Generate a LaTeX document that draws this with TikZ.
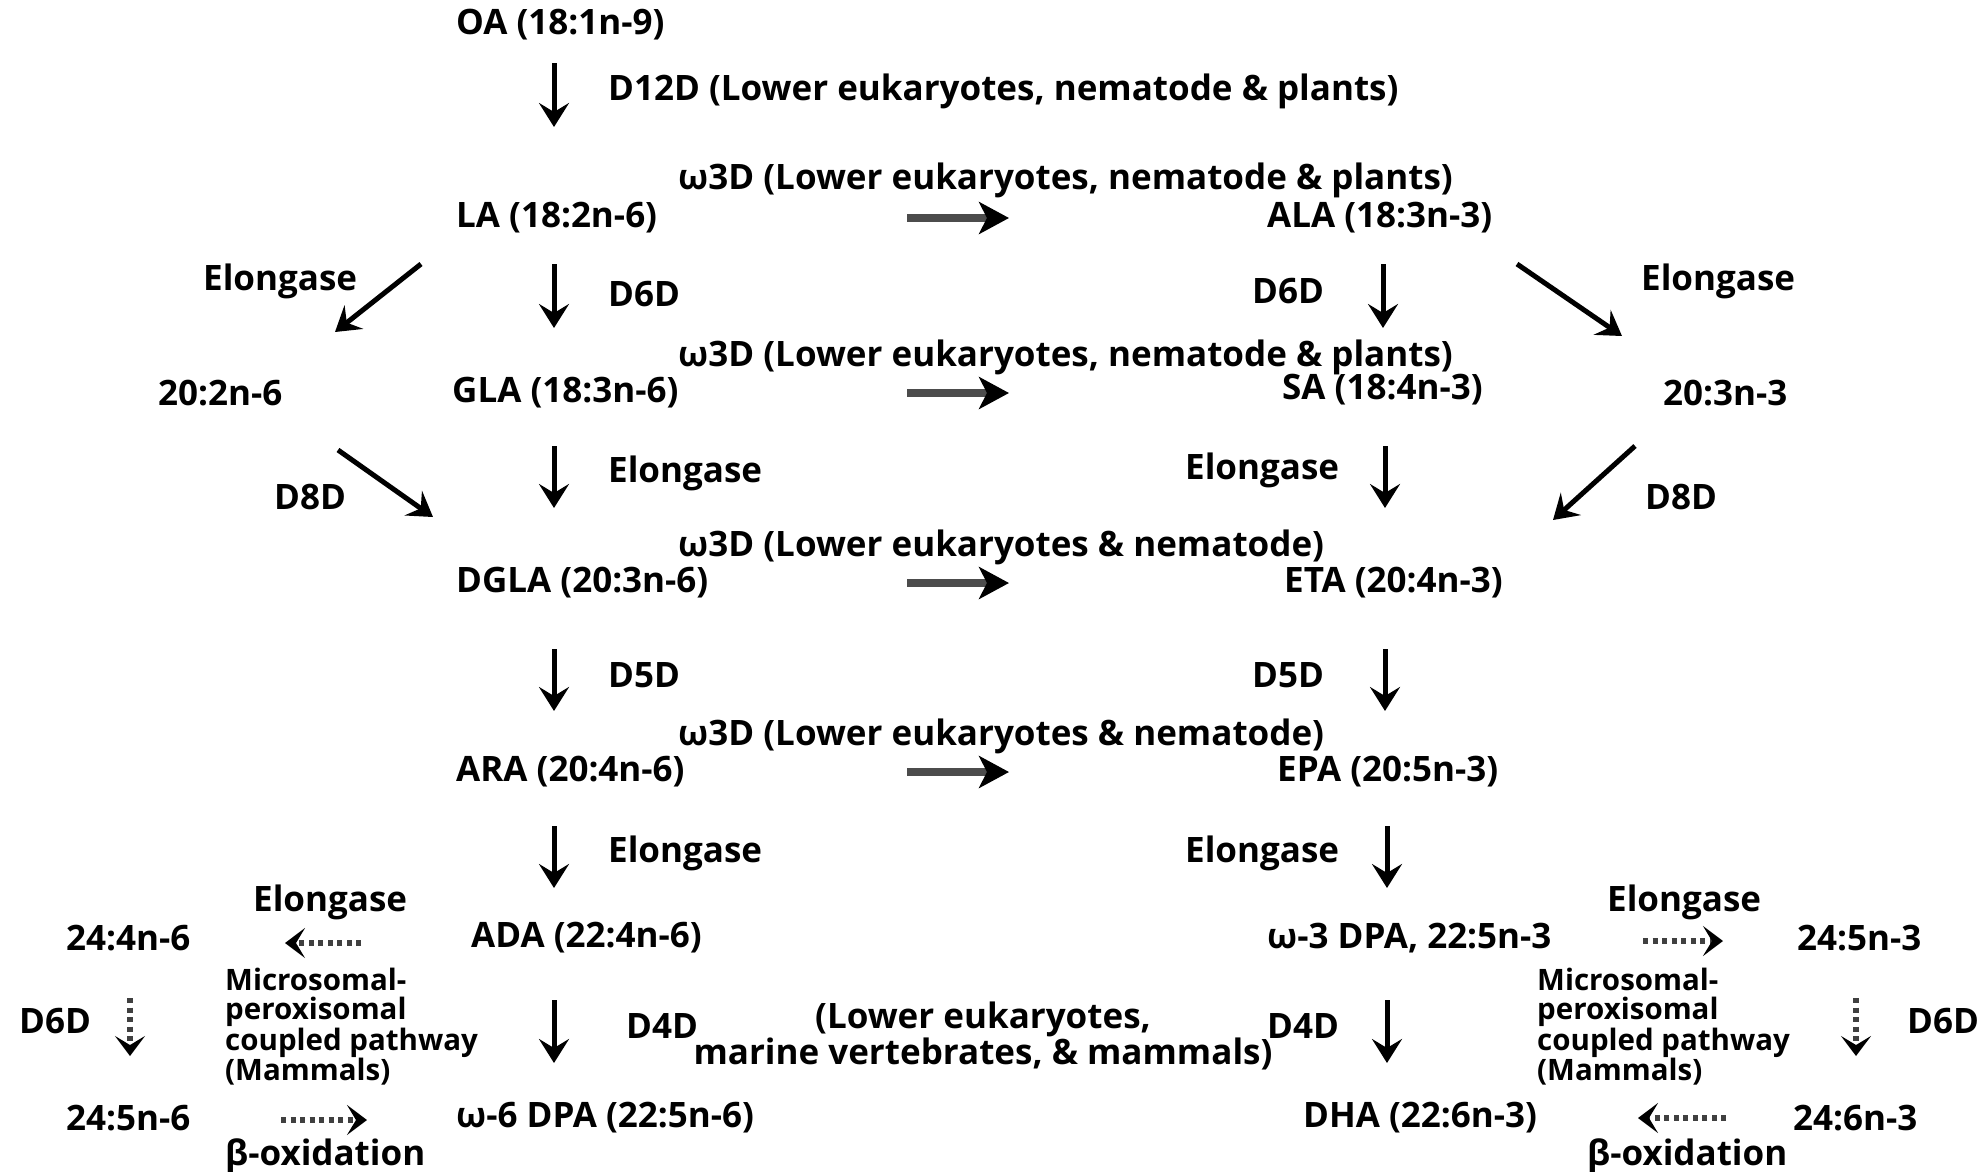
\documentclass[tikz,border=0pt]{standalone}
\usepackage{fontspec}
\setmainfont{Open Sans}
\usetikzlibrary{arrows.meta}
\newcommand{\fz}{\fontsize{35}{31}\selectfont\bfseries}
\newcommand{\fs}{\fontsize{29.5}{29}\selectfont\bfseries}
\tikzset{
  txt/.style={anchor=west, inner sep=0pt, font=\fz},
  small/.style={anchor=west, inner sep=0pt, font=\fs, align=left},
  solidarr/.style={line width=5pt, -{Stealth[length=24pt,width=30pt,inset=9pt]}},
  fatarr/.style={line width=8.5pt, black!70, -{Stealth[length=30pt,width=32pt,inset=8pt,color=black]}},
  dotarr/.style={line width=6pt, black!75, dash pattern=on 5pt off 4.5pt, -{Stealth[length=20pt,width=30pt,inset=9pt,color=black]}}
}
\begin{document}
\begin{tikzpicture}[x=1pt,y=-1pt]
\useasboundingbox (0,0) rectangle (1987,1171);
% main column texts
\node[txt] (oa) at (456,25) {OA (18:1n-9)};
\node[txt] (d12d) at (608,91) {D12D (Lower eukaryotes, nematode \& plants)};
\node[txt] (w1) at (678,180) {ω3D (Lower eukaryotes, nematode \& plants)};
\node[txt] (la) at (456,218) {LA (18:2n-6)};
\node[txt] (ala) at (1267,218) {ALA (18:3n-3)};
\node[txt] (el1) at (203,281) {Elongase};
\node[txt] (d6l) at (608,294) {D6D};
\node[txt] (d6r) at (1252,291) {D6D};
\node[txt] (el2) at (1641,281) {Elongase};
\node[txt] (w2) at (678,357) {ω3D (Lower eukaryotes, nematode \& plants)};
\node[txt] (c202) at (158,393) {20:2n-6};
\node[txt] (gla) at (452,393) {GLA (18:3n-6)};
\node[txt] (sa) at (1282,390) {SA (18:4n-3)};
\node[txt] (c203) at (1663,393) {20:3n-3};
\node[txt] (d8l) at (274,497) {D8D};
\node[txt] (el3) at (608,473) {Elongase};
\node[txt] (el4) at (1185,470) {Elongase};
\node[txt] (d8r) at (1645,497) {D8D};
\node[txt] (w3) at (678,547) {ω3D (Lower eukaryotes \& nematode)};
\node[txt] (dgla) at (456,583) {DGLA (20:3n-6)};
\node[txt] (eta) at (1284,583) {ETA (20:4n-3)};
\node[txt] (d5l) at (608,675) {D5D};
\node[txt] (d5r) at (1252,675) {D5D};
\node[txt] (w4) at (678,736) {ω3D (Lower eukaryotes \& nematode)};
\node[txt] (ara) at (456,772) {ARA (20:4n-6)};
\node[txt] (epa) at (1277,772) {EPA (20:5n-3)};
\node[txt] (el5) at (608,853) {Elongase};
\node[txt] (el6) at (1185,853) {Elongase};
\node[txt] (el7) at (253,902) {Elongase};
\node[txt] (c244) at (66,938) {24:4n-6};
\node[txt] (ada) at (471,938) {ADA (22:4n-6)};
\node[txt] (dpa3) at (1267,938) {ω-3 DPA, 22:5n-3};
\node[txt] (el8) at (1607,902) {Elongase};
\node[txt] (c245) at (1797,938) {24:5n-3};
\node[txt] (d6ll) at (19,1021) {D6D};
\node[small] (mic1) at (225,1027) {Microsomal-\\peroxisomal\\coupled pathway\\(Mammals)};
\node[txt] (d4l) at (626,1026) {D4D};
\node[anchor=center, inner sep=0pt, font=\fz, align=center] (note) at (983,1036) {(Lower eukaryotes,\\marine vertebrates, \& mammals)};
\node[txt] (d4r) at (1267,1026) {D4D};
\node[small] (mic2) at (1537,1027) {Microsomal-\\peroxisomal\\coupled pathway\\(Mammals)};
\node[txt] (d6rr) at (1907,1021) {D6D};
\node[txt] (c2456) at (66,1118) {24:5n-6};
\node[txt] (dpa6) at (456,1118) {ω-6 DPA (22:5n-6)};
\node[txt] (dha) at (1303,1118) {DHA (22:6n-3)};
\node[txt] (c246) at (1793,1118) {24:6n-3};
\node[txt] (bo1) at (225,1156) {β-oxidation};
\node[txt] (bo2) at (1587,1156) {β-oxidation};
% arrow end points
\coordinate (a1s) at (554,63);  \coordinate (a1e) at (554,127);
\coordinate (a2s) at (554,264); \coordinate (a2e) at (554,328);
\coordinate (a3s) at (554,446); \coordinate (a3e) at (554,508);
\coordinate (a4s) at (554,649); \coordinate (a4e) at (554,711);
\coordinate (a5s) at (554,826); \coordinate (a5e) at (554,888);
\coordinate (a6s) at (554,1000); \coordinate (a6e) at (554,1063);
\coordinate (b2s) at (1383,264); \coordinate (b2e) at (1383,328);
\coordinate (b3s) at (1385,446); \coordinate (b3e) at (1385,508);
\coordinate (b4s) at (1385,649); \coordinate (b4e) at (1385,711);
\coordinate (b5s) at (1387,826); \coordinate (b5e) at (1387,888);
\coordinate (b6s) at (1387,1000); \coordinate (b6e) at (1387,1063);
\coordinate (h1s) at (907,218); \coordinate (h1e) at (1009,218);
\coordinate (h2s) at (907,393); \coordinate (h2e) at (1009,393);
\coordinate (h3s) at (907,583); \coordinate (h3e) at (1009,583);
\coordinate (h4s) at (907,772); \coordinate (h4e) at (1009,772);
\coordinate (dl1s) at (421,264); \coordinate (dl1e) at (335,332);
\coordinate (dr1s) at (1517,264); \coordinate (dr1e) at (1622,336);
\coordinate (dl2s) at (338,450); \coordinate (dl2e) at (433,517);
\coordinate (dr2s) at (1635,446); \coordinate (dr2e) at (1553,520);
\coordinate (e1s) at (361,943); \coordinate (e1e) at (285,943);
\coordinate (e2s) at (1643,941); \coordinate (e2e) at (1723,941);
\coordinate (v1s) at (130,998); \coordinate (v1e) at (130,1056);
\coordinate (v2s) at (1856,998); \coordinate (v2e) at (1856,1056);
\coordinate (o1s) at (281,1120); \coordinate (o1e) at (367,1120);
\coordinate (o2s) at (1726,1118); \coordinate (o2e) at (1638,1118);
% arrows
\foreach \a in {a1,a2,a3,a4,a5,a6,b2,b3,b4,b5,b6,dl1,dr1,dl2,dr2}
  \draw[solidarr] (\a s) -- (\a e);
\foreach \a in {h1,h2,h3,h4}
  \draw[fatarr] (\a s) -- (\a e);
\foreach \a in {e1,e2,v1,v2,o1,o2}
  \draw[dotarr] (\a s) -- (\a e);
\end{tikzpicture}
\end{document}
